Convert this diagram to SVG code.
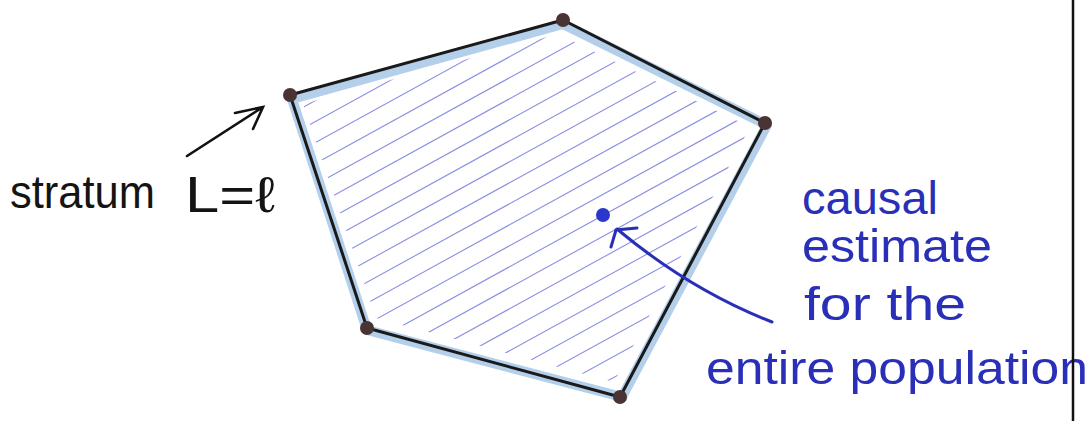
<svg xmlns="http://www.w3.org/2000/svg" width="1088" height="421" viewBox="0 0 1088 421">
<style>
.hatch{stroke:#5b63d6;stroke-width:1.1;opacity:0.7}
.edge{fill:none;stroke:#1a1a1a;stroke-width:3;stroke-linejoin:round}
.glow{fill:none;stroke:#b3cfea;stroke-width:10;stroke-linejoin:round}
.vtx{fill:#4a3333}
.ink{fill:none;stroke:#111;stroke-width:2.6;stroke-linecap:round}
.blueink{fill:none;stroke:#2a2fb8;stroke-width:3;stroke-linecap:round}
.hw{font-family:"Liberation Sans",sans-serif;font-weight:normal}
.black{fill:#141414}
.blue{fill:#2a2fb8}
</style>
<defs>
<clipPath id="inner"><polygon points="303,104 558,34 750,127 614,382 376,318"/></clipPath>
</defs>
<g id="stratum-region">
<polygon class="glow" points="292,99 563,24 767,125 622,397 367,330"/>
<g clip-path="url(#inner)">
<line class="hatch" x1="280" y1="120" x2="780" y2="-155"/>
<line class="hatch" x1="280" y1="141" x2="780" y2="-134"/>
<line class="hatch" x1="280" y1="162" x2="780" y2="-113"/>
<line class="hatch" x1="280" y1="183" x2="780" y2="-92"/>
<line class="hatch" x1="280" y1="204" x2="780" y2="-71"/>
<line class="hatch" x1="280" y1="225" x2="780" y2="-50"/>
<line class="hatch" x1="280" y1="246" x2="780" y2="-29"/>
<line class="hatch" x1="280" y1="267" x2="780" y2="-8"/>
<line class="hatch" x1="280" y1="288" x2="780" y2="13"/>
<line class="hatch" x1="280" y1="309" x2="780" y2="34"/>
<line class="hatch" x1="280" y1="330" x2="780" y2="55"/>
<line class="hatch" x1="280" y1="351" x2="780" y2="76"/>
<line class="hatch" x1="280" y1="372" x2="780" y2="97"/>
<line class="hatch" x1="280" y1="393" x2="780" y2="118"/>
<line class="hatch" x1="280" y1="414" x2="780" y2="139"/>
<line class="hatch" x1="280" y1="435" x2="780" y2="160"/>
<line class="hatch" x1="280" y1="456" x2="780" y2="181"/>
<line class="hatch" x1="280" y1="477" x2="780" y2="202"/>
<line class="hatch" x1="280" y1="498" x2="780" y2="223"/>
<line class="hatch" x1="280" y1="519" x2="780" y2="244"/>
<line class="hatch" x1="280" y1="540" x2="780" y2="265"/>
<line class="hatch" x1="280" y1="561" x2="780" y2="286"/>
<line class="hatch" x1="280" y1="582" x2="780" y2="307"/>
<line class="hatch" x1="280" y1="603" x2="780" y2="328"/>
</g>
<polygon class="edge" points="290,95 563,20 765,123 620,397 367,328"/>
<circle class="vtx" cx="290" cy="95" r="7"/>
<circle class="vtx" cx="563" cy="20" r="7"/>
<circle class="vtx" cx="765" cy="123" r="7"/>
<circle class="vtx" cx="620" cy="397" r="7"/>
<circle class="vtx" cx="367" cy="328" r="7"/>
</g>
<g id="estimate-point">
<circle cx="603" cy="215" r="7" fill="#2a36cc"/>
</g>
<g id="stratum-label">
<text class="hw black" x="10" y="208" font-size="46" textLength="145" lengthAdjust="spacingAndGlyphs">stratum</text>
<text class="hw black" x="185" y="212" font-size="50" textLength="90" lengthAdjust="spacingAndGlyphs">L=ℓ</text>
</g>
<g id="estimate-label">
<text class="hw blue" x="802" y="214" font-size="46" textLength="136" lengthAdjust="spacingAndGlyphs">causal</text>
<text class="hw blue" x="802" y="262" font-size="46" textLength="190" lengthAdjust="spacingAndGlyphs">estimate</text>
<text class="hw blue" x="804" y="320" font-size="46" textLength="162" lengthAdjust="spacingAndGlyphs">for the</text>
<text class="hw blue" x="706" y="384" font-size="46" textLength="382" lengthAdjust="spacingAndGlyphs">entire population</text>
</g>
<g id="connectors">
<path class="ink" d="M187,156 L263,107 M235,113 L263,107 L253,129"/>
<path class="blueink" d="M772,322 Q690,290 617,229 M611,247 L616,230 L637,228"/>
</g>
<g id="frame">
<line x1="1073" y1="0" x2="1073" y2="421" stroke="#111" stroke-width="2.5"/>
</g>
</svg>
